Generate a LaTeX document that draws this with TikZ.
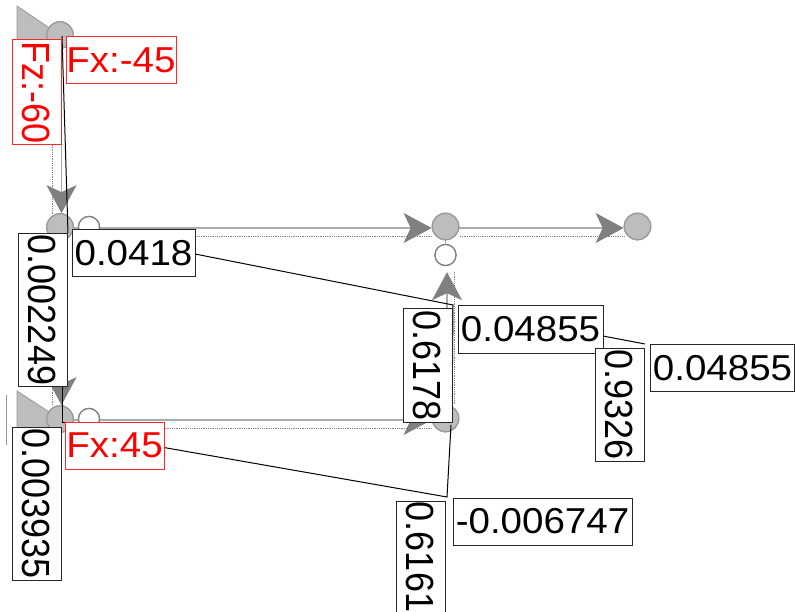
\documentclass[tikz,border=0pt]{standalone}
\usepackage{fontspec}
\usepackage{graphicx}
\setmainfont{Liberation Sans}
\usetikzlibrary{arrows.meta}
\definecolor{jointfill}{HTML}{BDBDBD}
\definecolor{jointline}{HTML}{999999}
\definecolor{tipgray}{HTML}{808080}
\definecolor{barline}{HTML}{ABABAB}
\newcommand{\widetxt}[1]{\scalebox{1.07}[1]{#1}}
\newcommand{\talltxt}[1]{\scalebox{1}[1.09]{#1}}
\tikzset{
  joint/.style={circle,draw=jointline,fill=jointfill,line width=1.2pt,minimum size=26.5pt,inner sep=0pt},
  hinge/.style={circle,draw=jointline!85!black,fill=white,line width=1.3pt,minimum size=21pt,inner sep=0pt},
  support/.style={fill=jointfill,draw=jointline,line width=.8pt},
  member/.style={draw=barline,line width=1.8pt},
  loaded/.style={member,-{Stealth[length=28pt,width=30pt,inset=7pt,color=tipgray]}},
  guide/.style={draw=gray,line width=.8pt,densely dotted},
  diagram/.style={draw=black,line width=1pt},
  lab/.style={draw=black!85,fill=white,line width=1pt,inner sep=0pt,font=\fontsize{36}{37}\selectfont,text=black,minimum height=47pt},
  vlab/.style={lab,rotate=-90,minimum height=49pt},
  force/.style={lab,draw=red!85,text=red},
  vforce/.style={vlab,draw=red!85,text=red},
}
\begin{document}
\begin{tikzpicture}[x=1pt,y=-1pt]
\useasboundingbox (0,0) rectangle (795,612);
% supports
\coordinate (s1a) at (17,6); \coordinate (s1b) at (17,64);
\coordinate (s2a) at (17,391); \coordinate (s2b) at (17,448);
\coordinate (m2a) at (6,395); \coordinate (m2b) at (6,445);
% joints (placed first so connectors can name them)
\node[joint] (n1) at (60,35) {};
\node[joint] (n2) at (60,227) {};
\node[joint] (n5) at (60,419) {};
\node[joint] (n3) at (445.5,226.5) {};
\node[joint] (n4) at (637.5,226.5) {};
\node[joint] (n6) at (445.5,418.5) {};
\node[hinge] (w1) at (89,227) {};
\node[hinge] (w2) at (89,419) {};
\node[hinge] (w3) at (445.5,255) {};
\draw[support] (s1a) -- (n1.center) -- (s1b) -- cycle;
\draw[support] (s2a) -- (n5.center) -- (s2b) -- cycle;
\draw[draw=jointline,line width=1pt] (m2a) -- (m2b);
% dotted guides
\coordinate (d1a) at (52,145); \coordinate (d1b) at (52,214);
\coordinate (d2a) at (52,388); \coordinate (d2b) at (52,406);
\coordinate (d3a) at (100,236); \coordinate (d3b) at (432,236);
\coordinate (d4a) at (460,236); \coordinate (d4b) at (625,236);
\coordinate (d5a) at (100,428); \coordinate (d5b) at (432,428);
\coordinate (d6a) at (454,272); \coordinate (d6b) at (454,405);
\foreach \a/\b in {d1a/d1b,d2a/d2b,d3a/d3b,d4a/d4b,d5a/d5b,d6a/d6b}{\draw[guide] (\a) -- (\b);}
% members
\draw[loaded] ([xshift=1.5pt]n1.south) -- ([xshift=1.5pt]n2.north);
\draw[loaded] ([xshift=1.5pt]n2.south) -- ([xshift=1.5pt]n5.north);
\draw[member] ([yshift=-1pt]n2.east) -- ([yshift=-1pt]w1.west);
\draw[member] ([yshift=-1pt]n5.east) -- ([yshift=-1pt]w2.west);
\draw[loaded] ([yshift=-1pt]w1.east) -- ([yshift=-1.5pt]n3.west);
\draw[loaded] ([yshift=-1.5pt]n3.east) -- ([yshift=-1.5pt]n4.west);
\draw[loaded] ([yshift=-1pt]w2.east) -- ([yshift=-1.5pt]n6.west);
\draw[loaded,shorten >=6pt] ([xshift=1.5pt]n6.north) -- ([xshift=1.5pt]w3.south);
\draw[member,line width=1pt] (w3) -- (n3);
% joints again on top of the members
\node[joint] at (n1) {}; \node[joint] at (n2) {}; \node[joint] at (n5) {};
\node[joint] at (n3) {}; \node[joint] at (n4) {}; \node[joint] at (n6) {};
\node[hinge] at (w1) {}; \node[hinge] at (w2) {}; \node[hinge] at (w3) {};
% result diagrams
\coordinate (r1) at (62,36); \coordinate (r2) at (68,233);
\coordinate (r3) at (195,254); \coordinate (r4) at (453,305);
\coordinate (r5) at (452,422); \coordinate (r6) at (603,336); \coordinate (r7) at (645,344);
\coordinate (r8) at (161,447); \coordinate (r9) at (447,497); \coordinate (r10) at (451,425);
\coordinate (r11) at (62,385); \coordinate (r12) at (62,422); \coordinate (r13) at (66,422);
\draw[diagram] (r1) -- (r2);
\draw[diagram] (r3) -- (r4) -- (r5);
\draw[diagram] (r6) -- (r7);
\draw[diagram] (r8) -- (r9) -- (r10);
\draw[diagram] (r11) -- (r12) -- (r13);
% labels
\node[force,minimum width=110pt] (fxa) at (121,60.5) {\widetxt{Fx:-45}};
\node[vforce,minimum width=105pt] (fz) at (36.5,92.5) {\talltxt{Fz:-60}};
\node[lab,minimum width=123pt] (la) at (133.5,253) {\widetxt{0.0418}};
\node[vlab,minimum width=152pt] (lb) at (42.5,310) {\talltxt{0.002249}};
\node[vlab,minimum width=153pt] (lc) at (36.5,503.5) {\talltxt{0.003935}};
\node[force,minimum width=99pt] (fxb) at (114.5,445.5) {\widetxt{Fx:45}};
\node[vlab,minimum width=113pt] (ld) at (427.5,365.5) {\talltxt{0.6178}};
\node[lab,minimum width=145pt] (le) at (530.5,329.5) {\widetxt{0.04855}};
\node[vlab,minimum width=113pt] (lf) at (619.5,404.5) {\talltxt{0.9326}};
\node[lab,minimum width=144pt] (lg) at (722.5,368) {\widetxt{0.04855}};
\node[lab,minimum width=179pt] (lh) at (542.5,521.5) {\widetxt{-0.006747}};
\node[vlab,minimum width=112pt] (li) at (420.5,557) {\talltxt{0.6161}};
\end{tikzpicture}
\end{document}
